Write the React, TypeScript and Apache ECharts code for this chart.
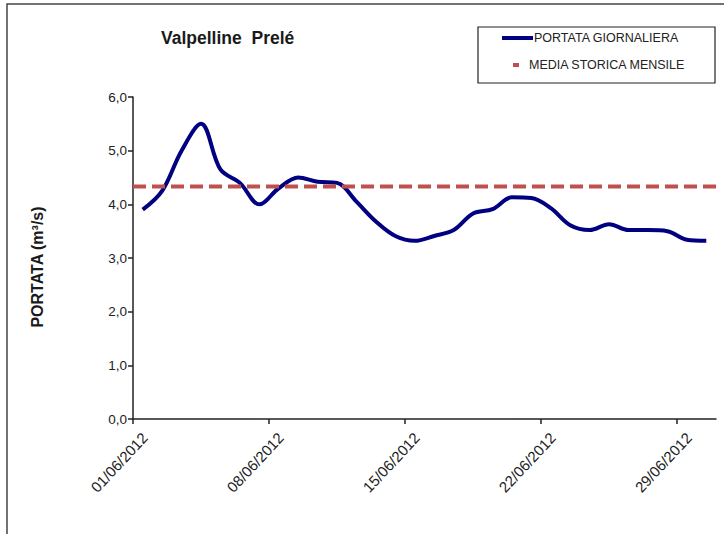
import React, { useEffect, useRef } from "react";
import * as echarts from "echarts";

const FONT = "'Liberation Sans', Arial, sans-serif";

const dates = [
  "01/06/2012", "02/06/2012", "03/06/2012", "04/06/2012", "05/06/2012",
  "06/06/2012", "07/06/2012", "08/06/2012", "09/06/2012", "10/06/2012",
  "11/06/2012", "12/06/2012", "13/06/2012", "14/06/2012", "15/06/2012",
  "16/06/2012", "17/06/2012", "18/06/2012", "19/06/2012", "20/06/2012",
  "21/06/2012", "22/06/2012", "23/06/2012", "24/06/2012", "25/06/2012",
  "26/06/2012", "27/06/2012", "28/06/2012", "29/06/2012", "30/06/2012",
];

const dailyFlow = [
  3.9, 4.25, 5.0, 5.5, 4.65, 4.4, 4.0, 4.3, 4.5, 4.42,
  4.4, 4.05, 3.68, 3.41, 3.32, 3.41, 3.52, 3.83, 3.91, 4.13,
  4.12, 3.93, 3.61, 3.52, 3.63, 3.52, 3.52, 3.5, 3.34, 3.32,
];

const monthlyMean = 4.33;

const tickDayIndices = [0, 7, 14, 21, 28];

const SERIES_DAILY = "PORTATA GIORNALIERA";
const SERIES_MEAN = "MEDIA STORICA MENSILE";
const TITLE = "Valpelline  Prelé";
const Y_NAME = "PORTATA (m³/s)";

const LABEL_SHIFT = 0.6;
const DAILY_COLOR = "#000080";
const MEAN_COLOR = "#C0504D";
const AXIS_COLOR = "#222";

export default function App() {
  const ref = useRef<HTMLDivElement>(null);

  useEffect(() => {
    if (!ref.current) return;
    const chart = echarts.init(ref.current, null, { renderer: "svg" });
    const axisLineStyle = { color: AXIS_COLOR, width: 1.5 };
    chart.setOption({
      animation: false,
      backgroundColor: "#fff",
      title: {
        text: TITLE,
        left: 156,
        top: 24,
        textStyle: { fontFamily: FONT, fontSize: 17.5, fontWeight: "bold", color: "#1a1a1a" },
      },
      grid: { left: 133, right: 8, top: 97, bottom: 115, containLabel: false, outerBoundsMode: "none" },
      xAxis: {
        type: "value",
        min: 0,
        max: dates.length,
        axisLine: { show: true, lineStyle: axisLineStyle },
        axisTick: { show: true, customValues: tickDayIndices, length: 5, lineStyle: axisLineStyle },
        axisLabel: {
          customValues: tickDayIndices.map((i) => i + LABEL_SHIFT),
          rotate: 47,
          margin: 16,
          fontFamily: FONT,
          fontSize: 15,
          color: AXIS_COLOR,
          formatter: (v: number) => dates[Math.round(v - LABEL_SHIFT)] ?? "",
        },
        splitLine: { show: false },
      },
      yAxis: {
        type: "value",
        min: 0,
        max: 6,
        interval: 1,
        axisLine: { show: true, lineStyle: axisLineStyle },
        axisTick: { show: true, length: 5, lineStyle: axisLineStyle },
        axisLabel: {
          margin: 6,
          fontFamily: FONT,
          fontSize: 13.5,
          color: AXIS_COLOR,
          formatter: (v: number) => v.toFixed(1).replace(".", ","),
        },
        splitLine: { show: false },
      },
      series: [
        {
          name: SERIES_DAILY,
          type: "line",
          data: dailyFlow.map((v, i) => [i + 0.5, v]),
          smooth: 0.35,
          symbol: "none",
          showSymbol: false,
          lineStyle: { color: DAILY_COLOR, width: 4 },
          z: 2,
        },
        {
          name: SERIES_MEAN,
          type: "line",
          data: [
            [0, monthlyMean],
            [dates.length, monthlyMean],
          ],
          symbol: "none",
          showSymbol: false,
          lineStyle: { color: MEAN_COLOR, width: 4, type: [13, 6] },
          z: 3,
        },
      ],
      graphic: [
        {
          type: "rect",
          shape: { x: 7, y: 4, width: 800, height: 600 },
          style: { fill: "none", stroke: "#444", lineWidth: 1.5 },
          silent: true,
          z: 0,
        },
        {
          type: "text",
          x: 37,
          y: 267,
          rotation: Math.PI / 2,
          style: {
            text: Y_NAME,
            fontFamily: FONT,
            fontSize: 16,
            fontWeight: "bold",
            fill: "#1a1a1a",
            align: "center",
            verticalAlign: "middle",
            textAlign: "center",
            textVerticalAlign: "middle",
          },
          z: 11,
        },
        {
          type: "rect",
          shape: { x: 478, y: 27, width: 237, height: 56 },
          style: { fill: "#fff", stroke: "#222", lineWidth: 1.2 },
          z: 10,
        },
        {
          type: "line",
          shape: { x1: 502, y1: 38, x2: 533, y2: 38 },
          style: { stroke: DAILY_COLOR, lineWidth: 4 },
          z: 11,
        },
        {
          type: "text",
          x: 534,
          y: 38,
          style: {
            text: SERIES_DAILY,
            fontFamily: FONT,
            fontSize: 12.5,
            fill: "#222",
            align: "left",
            verticalAlign: "middle",
            textAlign: "left",
            textVerticalAlign: "middle",
          },
          z: 11,
        },
        {
          type: "line",
          shape: { x1: 513, y1: 65, x2: 519, y2: 65 },
          style: { stroke: MEAN_COLOR, lineWidth: 4 },
          z: 11,
        },
        {
          type: "text",
          x: 529,
          y: 65,
          style: {
            text: SERIES_MEAN,
            fontFamily: FONT,
            fontSize: 12.5,
            fill: "#222",
            align: "left",
            verticalAlign: "middle",
            textAlign: "left",
            textVerticalAlign: "middle",
          },
          z: 11,
        },
      ],
    });
    return () => chart.dispose();
  }, []);

  return (
    <div
      ref={ref}
      style={{ position: "fixed", left: 0, top: 0, width: 724, height: 534, background: "#fff" }}
    />
  );
}
